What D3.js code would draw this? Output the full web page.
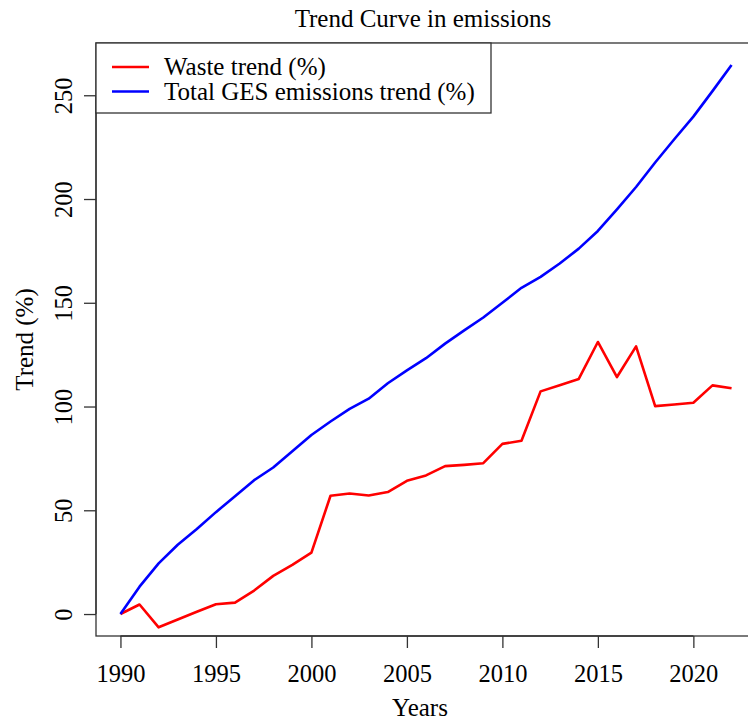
<!DOCTYPE html>
<html>
<head>
<meta charset="utf-8">
<script src="https://cdn.jsdelivr.net/npm/d3@7"></script>
<style>
  html, body { margin: 0; padding: 0; background: #fff; }
  svg { display: block; }
  text { font-family: "Liberation Serif", "Times New Roman", serif; fill: #000; }
</style>
</head>
<body>
<svg id="chart" width="748" height="721"></svg>
<script>
// Years covered by both series
const years = d3.range(1990, 2023);

// Trend of waste-sector emissions relative to 1990 (%)
const wasteTrend = [
  0, 4.6, -6.4, -2.6, 1.1, 4.7, 5.5, 11.3, 18.4, 23.7,
  29.6, 57.0, 58.1, 57.1, 58.8, 64.2, 66.8, 71.3, 71.9, 72.7,
  82.0, 83.5, 107.3, 110.3, 113.3, 131.1, 114.2, 129.0, 100.2, 101.0,
  101.8, 110.2, 108.8
];

// Trend of total GES emissions relative to 1990 (%)
const totalTrend = [
  0, 13.2, 24.4, 33.4, 41.0, 49.1, 56.8, 64.5, 70.6, 78.4,
  86.3, 92.8, 98.9, 103.8, 111.2, 117.4, 123.3, 130.3, 136.7, 142.9,
  150.0, 157.2, 162.5, 168.9, 176.1, 184.6, 195.0, 205.8, 217.6, 228.8,
  239.7, 252.0, 264.6
];

const xTicks = [1990, 1995, 2000, 2005, 2010, 2015, 2020];
const yTicks = [0, 50, 100, 150, 200, 250];

const seriesNames = ["Waste trend (%)", "Total GES emissions trend (%)"];
const seriesColors = ["#ff0000", "#0000ff"];

const titleText = "Trend Curve in emissions";
const xLabel = "Years";
const yLabel = "Trend (%)";

// Plot region (device coordinates)
const plot = { left: 96, right: 756, top: 43, bottom: 636 };

// Axis ranges padded by 4% on each side
function padded(lo, hi) {
  const p = (hi - lo) * 0.04;
  return [lo - p, hi + p];
}

const x = d3.scaleLinear()
  .domain(padded(d3.min(years), d3.max(years)))
  .range([plot.left, plot.right]);

const y = d3.scaleLinear()
  .domain(padded(d3.min(totalTrend), d3.max(totalTrend)))
  .range([plot.bottom, plot.top]);

const svg = d3.select("#chart");

// Data lines
const line = d3.line().x(d => x(d[0])).y(d => y(d[1]));
const series = [wasteTrend, totalTrend];
series.forEach((vals, i) => {
  svg.append("path")
    .datum(years.map((yr, k) => [yr, vals[k]]))
    .attr("d", line)
    .attr("fill", "none")
    .attr("stroke", seriesColors[i])
    .attr("stroke-width", 2.6)
    .attr("stroke-linejoin", "round");
});

// Plot frame
svg.append("rect")
  .attr("x", plot.left).attr("y", plot.top)
  .attr("width", plot.right - plot.left)
  .attr("height", plot.bottom - plot.top)
  .attr("fill", "none")
  .attr("stroke", "#333")
  .attr("stroke-width", 1.3);

// Bottom axis
const xAxis = d3.axisBottom(x)
  .tickValues(xTicks)
  .tickFormat(d3.format("d"))
  .tickSize(12)
  .tickPadding(17);
const gx = svg.append("g")
  .attr("transform", `translate(0,${plot.bottom})`)
  .call(xAxis);
gx.select(".domain")
  .attr("d", `M${x(xTicks[0])},0H${x(xTicks[xTicks.length - 1])}`)
  .attr("stroke", "#333").attr("stroke-width", 1.3);
gx.selectAll(".tick line").attr("stroke", "#333").attr("stroke-width", 1.3);
gx.selectAll(".tick text")
  .attr("font-family", "Liberation Serif")
  .attr("font-size", 24.5)
  .attr("fill", "#000");

// Left axis with rotated labels
const yAxis = d3.axisLeft(y)
  .tickValues(yTicks)
  .tickFormat(d3.format("d"))
  .tickSize(12);
const gy = svg.append("g")
  .attr("transform", `translate(${plot.left},0)`)
  .call(yAxis);
gy.select(".domain")
  .attr("d", `M0,${y(yTicks[0])}V${y(yTicks[yTicks.length - 1])}`)
  .attr("stroke", "#333").attr("stroke-width", 1.3);
gy.selectAll(".tick line").attr("stroke", "#333").attr("stroke-width", 1.3);
gy.selectAll(".tick text")
  .attr("font-family", "Liberation Serif")
  .attr("font-size", 24.5)
  .attr("fill", "#000")
  .attr("x", null).attr("dy", null)
  .attr("text-anchor", "middle")
  .attr("transform", `translate(-24,0) rotate(-90)`);

// Title and axis titles
svg.append("text")
  .attr("x", (plot.left + 742) / 2 + 4).attr("y", 27)
  .attr("text-anchor", "middle")
  .attr("font-size", 25)
  .text(titleText);

svg.append("text")
  .attr("x", 420).attr("y", 716)
  .attr("text-anchor", "middle")
  .attr("font-size", 25)
  .text(xLabel);

svg.append("text")
  .attr("transform", `translate(33,${(plot.top + plot.bottom) / 2}) rotate(-90)`)
  .attr("text-anchor", "middle")
  .attr("font-size", 25)
  .text(yLabel);

// Legend in the top-left corner
const legend = svg.append("g");
legend.append("rect")
  .attr("x", plot.left).attr("y", plot.top)
  .attr("width", 395).attr("height", 70)
  .attr("fill", "#fff")
  .attr("stroke", "#333")
  .attr("stroke-width", 1.3);
seriesNames.forEach((name, i) => {
  const cy = 67 + i * 24.5;
  legend.append("line")
    .attr("x1", 112).attr("x2", 149)
    .attr("y1", cy).attr("y2", cy)
    .attr("stroke", seriesColors[i])
    .attr("stroke-width", 2.6);
  legend.append("text")
    .attr("x", 164).attr("y", cy)
    .attr("dy", "0.33em")
    .attr("font-size", 25)
    .text(name);
});
</script>
</body>
</html>
